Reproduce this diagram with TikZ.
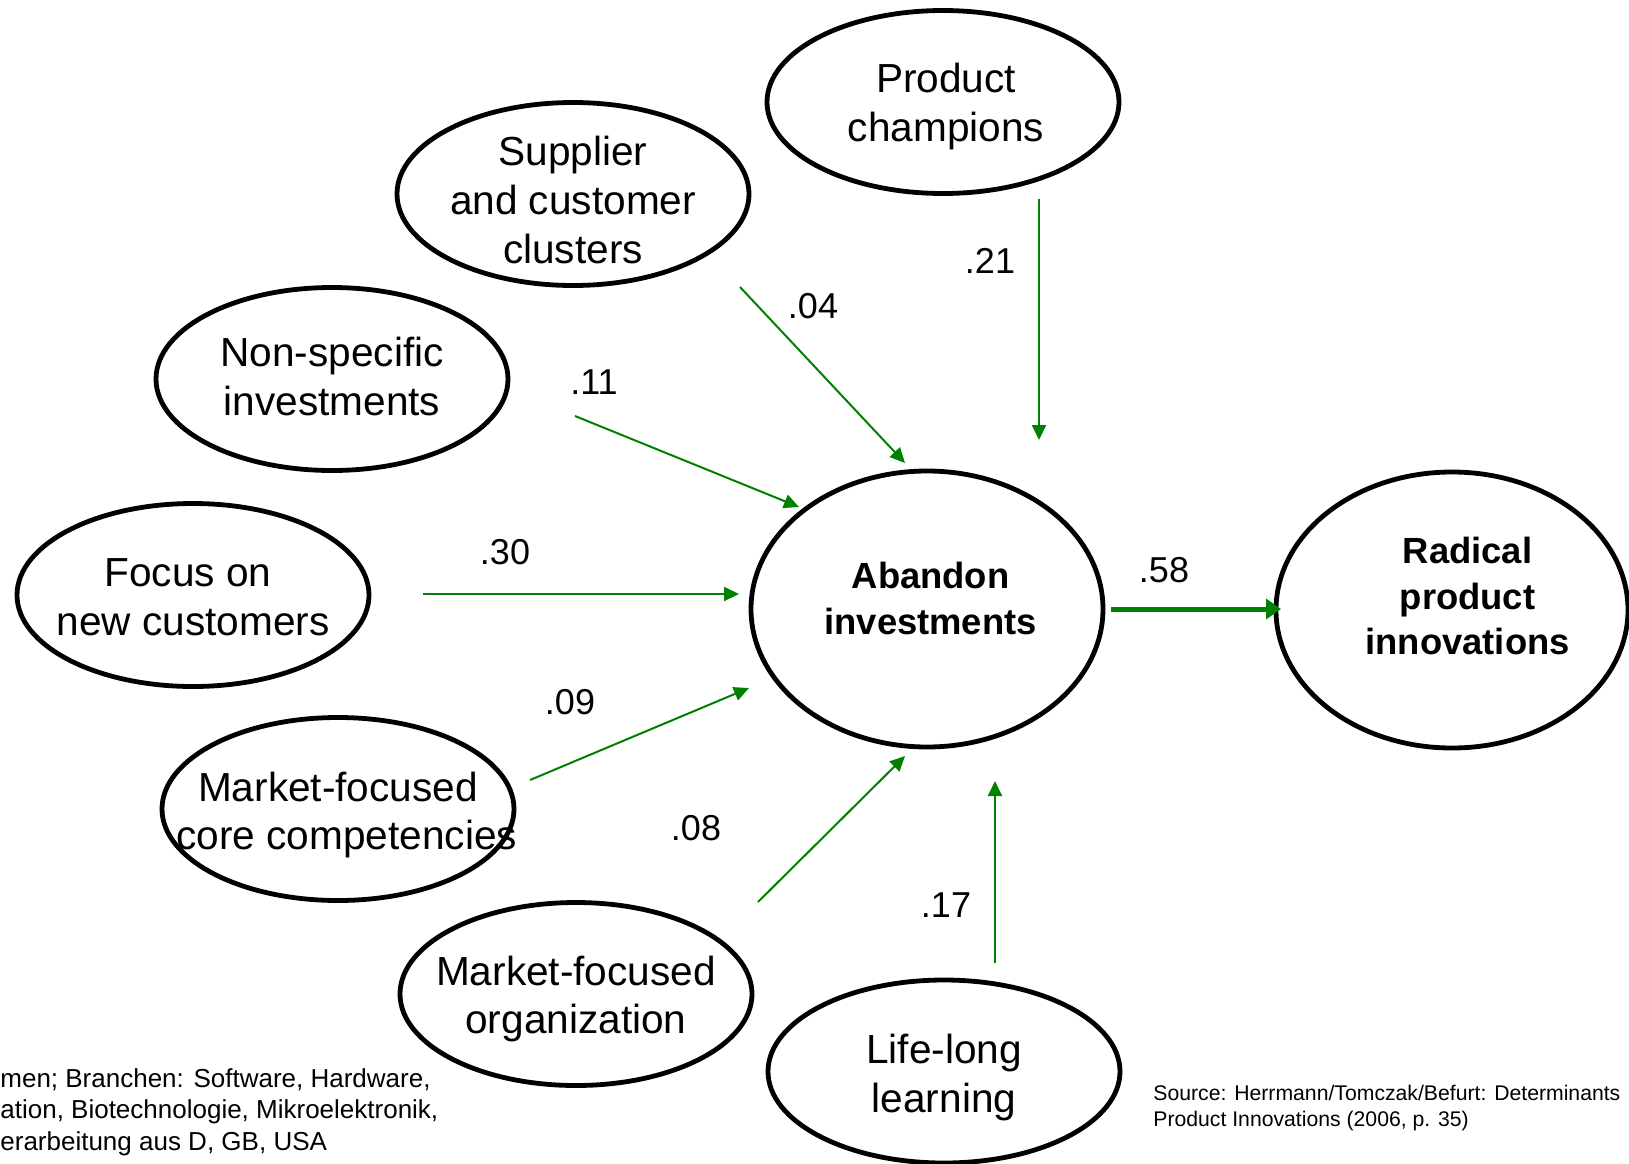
\documentclass[tikz,border=0pt]{standalone}
\usepackage{fontspec}
\setmainfont{Liberation Sans}
\usetikzlibrary{shapes.geometric,arrows.meta}

\definecolor{effectgreen}{RGB}{0,128,0}
\newcommand{\elltext}[2][-8pt]{\makebox[0pt]{\smash{\raisebox{#1}{\begin{tabular}{@{}c@{}}#2\end{tabular}}}}}

\tikzset{
  construct/.style={ellipse,draw=black,line width=2.4pt,inner sep=0pt,
    minimum width=176pt,minimum height=91.5pt,font=\fontsize{20.3}{24.4}\selectfont},
  outcome/.style={construct,minimum height=138pt,font=\fontsize{18.2}{22.6}\selectfont\bfseries},
  effect/.style={draw=effectgreen,line width=1pt,-{Triangle[length=7.5pt,width=7pt]}},
  maineffect/.style={draw=effectgreen,line width=2.5pt,-{Triangle[length=7.5pt,width=10pt]}},
  coef/.style={inner sep=0pt,font=\fontsize{18}{21}\selectfont},
}

\begin{document}
\begin{tikzpicture}[x=0.5pt,y=-0.5pt]
\useasboundingbox (0,0) rectangle (1629,1163);

% constructs
\node[construct] (champions)    at (943,102)    {\hspace*{3pt}\elltext{Product\\champions}};
\node[construct] (suppliers)    at (573,194)    {\elltext[-10.5pt]{Supplier\\and customer\\clusters}};
\node[construct] (nonspecific)  at (332,379)    {\elltext[-6.5pt]{Non-specific\\investments}};
\node[construct] (newcustomers) at (193,595)    {\elltext[-8.5pt]{Focus on\hspace*{5pt}\\new customers}};
\node[construct] (corecomp)     at (338,809)    {\elltext[-8.5pt]{Market-focused\\\hspace*{8.8pt}core competencies}};
\node[construct] (marketorg)    at (576,994)    {\elltext{Market-focused\\organization}};
\node[construct] (learning)     at (944,1071.5) {\elltext[-8.5pt]{Life-long\\learning}};
\node[outcome]   (abandon)      at (927,609)    {\hspace*{3.6pt}\elltext[-1pt]{Abandon\\investments}};
\node[outcome]   (radical)      at (1452,610)   {\hspace*{15.6pt}\elltext[0.7pt]{Radical\\product\\innovations}};

% arrow ends
\coordinate (champ0) at (1039,199);  \coordinate (champ1) at (1039,440);
\coordinate (suppl0) at (740,287);   \coordinate (suppl1) at (905,463);
\coordinate (nonsp0) at (575,416);   \coordinate (nonsp1) at (799,507);
\coordinate (focus0) at (423,594);   \coordinate (focus1) at (739,594);
\coordinate (comp0)  at (530,780);   \coordinate (comp1)  at (749,688);
\coordinate (org0)   at (758,902);   \coordinate (org1)   at (905,756);
\coordinate (learn0) at (995,963);   \coordinate (learn1) at (995,781);
\coordinate (aband0) at (1111,609);  \coordinate (aband1) at (1281,609);

\draw[effect] (champ0) -- (champ1);
\draw[effect] (suppl0) -- (suppl1);
\draw[effect] (nonsp0) -- (nonsp1);
\draw[effect] (focus0) -- (focus1);
\draw[effect] (comp0) -- (comp1);
\draw[effect] (org0) -- (org1);
\draw[effect] (learn0) -- (learn1);
\draw[maineffect] (aband0) -- (aband1);

% path coefficients
\node[coef] (c21) at (990,261)  {.21};
\node[coef] (c04) at (813,306)  {.04};
\node[coef] (c11) at (594,382)  {.11};
\node[coef] (c30) at (505,552)  {.30};
\node[coef] (c09) at (570,702)  {.09};
\node[coef] (c08) at (696,828)  {.08};
\node[coef] (c17) at (946,905)  {.17};
\node[coef] (c58) at (1164,570) {.58};

% footnotes
\node[anchor=base west,inner sep=0pt,align=left,font=\fontsize{13}{15.8}\selectfont] (sample) at (0,1150.2)
  {men; Branchen: Software, Hardware,\\ation, Biotechnologie, Mikroelektronik,\\erarbeitung aus D, GB, USA};
\node[anchor=base west,inner sep=0pt,align=left,font=\fontsize{10.6}{13}\selectfont] (source) at (1153,1126.5)
  {Source: Herrmann/Tomczak/Befurt: Determinants\\Product Innovations (2006, p. 35)};

\end{tikzpicture}
\end{document}
